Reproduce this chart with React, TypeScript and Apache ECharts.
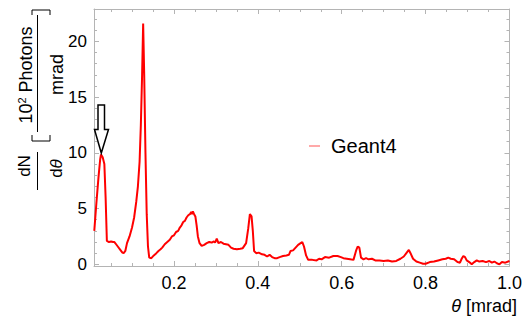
import React, { useEffect, useRef } from "react";
import * as echarts from "echarts";

const thetaValues = [
  0.010, 0.015, 0.020, 0.024, 0.026, 0.030, 0.034, 0.037, 0.040, 0.045, 0.050, 0.055, 0.058, 0.062, 0.066, 0.072,
  0.077, 0.080, 0.084, 0.088, 0.094, 0.100, 0.105, 0.110, 0.114, 0.118, 0.121, 0.124, 0.1265, 0.129, 0.132, 0.135,
  0.138, 0.141, 0.146, 0.152, 0.158, 0.163, 0.168, 0.172, 0.178, 0.184, 0.190, 0.195, 0.200, 0.205, 0.210, 0.214,
  0.218, 0.222, 0.226, 0.230, 0.234, 0.238, 0.241, 0.243, 0.245, 0.248, 0.251, 0.254, 0.257, 0.261, 0.266, 0.272,
  0.278, 0.284, 0.290, 0.295, 0.298, 0.302, 0.306, 0.312, 0.318, 0.324, 0.330, 0.336, 0.342, 0.350, 0.358, 0.364,
  0.372, 0.377, 0.381, 0.385, 0.388, 0.391, 0.396, 0.402, 0.410, 0.416, 0.422, 0.428, 0.434, 0.440, 0.446, 0.452,
  0.460, 0.468, 0.474, 0.478, 0.484, 0.490, 0.496, 0.502, 0.506, 0.510, 0.515, 0.520, 0.530, 0.540, 0.546, 0.552,
  0.560, 0.570, 0.580, 0.590, 0.598, 0.604, 0.612, 0.620, 0.628, 0.634, 0.638, 0.642, 0.646, 0.652, 0.658, 0.664,
  0.672, 0.680, 0.690, 0.700, 0.710, 0.720, 0.730, 0.740, 0.748, 0.755, 0.760, 0.764, 0.770, 0.778, 0.786, 0.794,
  0.800, 0.810, 0.820, 0.830, 0.840, 0.848, 0.854, 0.860, 0.868, 0.876, 0.882, 0.886, 0.890, 0.894, 0.898, 0.904,
  0.910, 0.916, 0.922, 0.928, 0.936, 0.944, 0.952, 0.958, 0.964, 0.970, 0.976, 0.982, 0.990, 1.000,
];

const geant4Values = [
  3.0, 5.5, 7.8, 9.4, 9.85, 9.6, 9.0, 6.0, 2.1, 2.0, 2.05, 2.0, 2.0, 1.8, 1.6, 1.3,
  1.05, 1.0, 1.2, 1.9, 2.5, 3.3, 4.2, 5.6, 7.0, 9.2, 12.5, 17.0, 21.6, 17.0, 10.0, 4.5,
  1.6, 0.6, 0.55, 0.8, 1.0, 1.2, 1.35, 1.5, 1.8, 2.0, 2.2, 2.5, 2.6, 2.9, 3.0, 3.3,
  3.5, 3.8, 3.9, 4.2, 4.4, 4.5, 4.7, 4.5, 4.75, 4.5, 4.3, 3.5, 2.5, 1.9, 1.65, 1.75,
  1.9, 2.0, 1.95, 2.05, 1.95, 2.3, 1.9, 2.0, 1.85, 1.8, 1.75, 1.5, 1.4, 1.35, 1.4, 1.45,
  1.9, 3.2, 4.5, 4.3, 3.0, 1.2, 1.0, 1.05, 0.9, 0.85, 0.7, 0.85, 0.65, 0.55, 0.55, 0.65,
  0.75, 0.8, 0.85, 1.2, 1.25, 1.5, 1.75, 1.9, 2.0, 1.6, 0.8, 0.4, 0.4, 0.35, 0.5, 0.45,
  0.65, 0.6, 0.75, 0.75, 0.65, 0.55, 0.5, 0.45, 0.4, 1.2, 1.6, 1.5, 0.6, 0.45, 0.55, 0.45,
  0.5, 0.35, 0.35, 0.3, 0.35, 0.25, 0.3, 0.5, 0.7, 1.05, 1.3, 1.0, 0.5, 0.25, 0.15, 0.05,
  0.05, 0.2, 0.25, 0.35, 0.45, 0.5, 0.6, 0.5, 0.45, 0.2, 0.15, 0.5, 0.75, 0.65, 0.35, 0.2,
  0.0, 0.2, 0.35, 0.25, 0.3, 0.2, 0.3, 0.15, 0.25, 0.1, 0.0, 0.2, 0.15, 0.3,
];

const xMajorTicks = [0.2, 0.4, 0.6, 0.8, 1.0];
const xMinorTicks = [0.05, 0.1, 0.15, 0.25, 0.3, 0.35, 0.45, 0.5, 0.55, 0.65, 0.7, 0.75, 0.85, 0.9, 0.95];
const yMajorTicks = [0, 5, 10, 15, 20];
const yMinorTicks = [1, 2, 3, 4, 6, 7, 8, 9, 11, 12, 13, 14, 16, 17, 18, 19, 21, 22];

const FONT = "'Liberation Sans', Arial, sans-serif";
const FRAME = "#b4b4b4";

export default function App() {
  const ref = useRef<HTMLDivElement>(null);
  useEffect(() => {
    if (!ref.current) return;
    const chart = echarts.init(ref.current, undefined, { renderer: "svg" });
    const xMin = 0.0093;
    const xMax = 1.0;
    const yMin = -0.15;
    const yMax = 22.9;
    const mkX = (pos: string, ticks: number[], len: number, labels: boolean, line: boolean) => ({
      type: "value",
      min: xMin,
      max: xMax,
      position: pos,
      axisLine: { show: line, onZero: false, lineStyle: { color: FRAME, width: 1 } },
      axisTick: { show: true, inside: true, length: len, customValues: ticks, lineStyle: { color: FRAME } },
      axisLabel: labels
        ? { show: true, customValues: ticks, formatter: (v: number) => v.toFixed(1), color: "#000", fontSize: 18, fontFamily: FONT, margin: 8 }
        : { show: false },
      splitLine: { show: false },
    });
    const mkY = (pos: string, ticks: number[], len: number, labels: boolean, line: boolean) => ({
      type: "value",
      min: yMin,
      max: yMax,
      position: pos,
      axisLine: { show: line, onZero: false, lineStyle: { color: FRAME, width: 1 } },
      axisTick: { show: true, inside: true, length: len, customValues: ticks, lineStyle: { color: FRAME } },
      axisLabel: labels
        ? { show: true, customValues: ticks, formatter: (v: number) => String(v), color: "#000", fontSize: 17, fontFamily: FONT, margin: 7 }
        : { show: false },
      splitLine: { show: false },
    });
    const rot = Math.PI / 2;
    const option: any = {
      animation: false,
      backgroundColor: "#fff",
      grid: { left: 94, right: 15, top: 9, bottom: 51, containLabel: false },
      xAxis: [
        mkX("bottom", xMajorTicks, 5, true, true),
        mkX("bottom", xMinorTicks, 3, false, false),
        mkX("top", xMajorTicks, 5, false, true),
        mkX("top", xMinorTicks, 3, false, false),
      ],
      yAxis: [
        mkY("left", yMajorTicks, 5, true, true),
        mkY("left", yMinorTicks, 3, false, false),
        mkY("right", yMajorTicks, 5, false, true),
        mkY("right", yMinorTicks, 3, false, false),
      ],
      legend: {
        show: true,
        left: 304,
        top: 131,
        icon: "rect",
        itemWidth: 11,
        itemHeight: 1.5,
        itemStyle: { color: "#ff8c8c" },
        textStyle: { fontSize: 20, fontFamily: FONT, color: "#000", padding: [0, 0, 0, 6] },
        data: ["Geant4"],
      },
      series: [
        {
          name: "Geant4",
          type: "line",
          xAxisIndex: 0,
          yAxisIndex: 0,
          showSymbol: false,
          symbol: "none",
          lineStyle: { color: "#ff0000", width: 2 },
          itemStyle: { color: "#ff0000" },
          data: thetaValues.map((t, i) => [t, geant4Values[i]]),
        },
      ],
      graphic: [
        {
          type: "polygon",
          shape: {
            points: [
              [98, 105], [104.5, 105], [104.5, 129.5], [108.5, 129.5], [101.3, 153], [94.5, 129.5], [98, 129.5],
            ],
          },
          style: { fill: "#fff", stroke: "#000", lineWidth: 1.5 },
          z: 100,
        },
        {
          type: "text",
          x: 24,
          y: 166,
          rotation: rot,
          style: { text: "dN", font: `17px ${FONT}`, fill: "#000", align: "center", verticalAlign: "middle" },
        },
        { type: "line", shape: { x1: 37.5, y1: 152, x2: 37.5, y2: 190 }, style: { stroke: "#000", lineWidth: 1 } },
        {
          type: "text",
          x: 56.5,
          y: 168.5,
          rotation: rot,
          style: {
            text: "{a|d}{i|θ}",
            rich: {
              a: { fontSize: 17, fontFamily: FONT, fill: "#000" },
              i: { fontSize: 17, fontFamily: FONT, fontStyle: "italic", fill: "#000" },
            },
            align: "center",
            verticalAlign: "middle",
          },
        },
        {
          type: "polyline",
          shape: { points: [[32, 135], [32, 141], [50, 141], [50, 135]] },
          style: { stroke: "#000", lineWidth: 1, fill: "none" },
        },
        {
          type: "polyline",
          shape: { points: [[32, 15], [32, 10], [50, 10], [50, 15]] },
          style: { stroke: "#000", lineWidth: 1, fill: "none" },
        },
        {
          type: "text",
          x: 25.5,
          y: 75,
          rotation: rot,
          style: {
            text: "{a|10}{s|2}{a| Photons}",
            rich: {
              a: { fontSize: 18, fontFamily: FONT, fill: "#000" },
              s: { fontSize: 11, fontFamily: FONT, fill: "#000", verticalAlign: "top", padding: [0, 0, 7, 0] },
            },
            align: "center",
            verticalAlign: "middle",
          },
        },
        { type: "line", shape: { x1: 37.5, y1: 15, x2: 37.5, y2: 132 }, style: { stroke: "#000", lineWidth: 1 } },
        {
          type: "text",
          x: 56.5,
          y: 74.5,
          rotation: rot,
          style: { text: "mrad", font: `18px ${FONT}`, fill: "#000", align: "center", verticalAlign: "middle" },
        },
        {
          type: "text",
          right: 8,
          top: 297,
          style: {
            text: "{i|θ}{a| [mrad]}",
            rich: {
              a: { fontSize: 18, fontFamily: FONT, fill: "#000" },
              i: { fontSize: 18, fontFamily: FONT, fontStyle: "italic", fill: "#000" },
            },
          },
        },
      ],
    };
    chart.setOption(option);
    return () => chart.dispose();
  }, []);
  return <div ref={ref} style={{ position: "fixed", left: 0, top: 0, width: 525, height: 317 }} />;
}
